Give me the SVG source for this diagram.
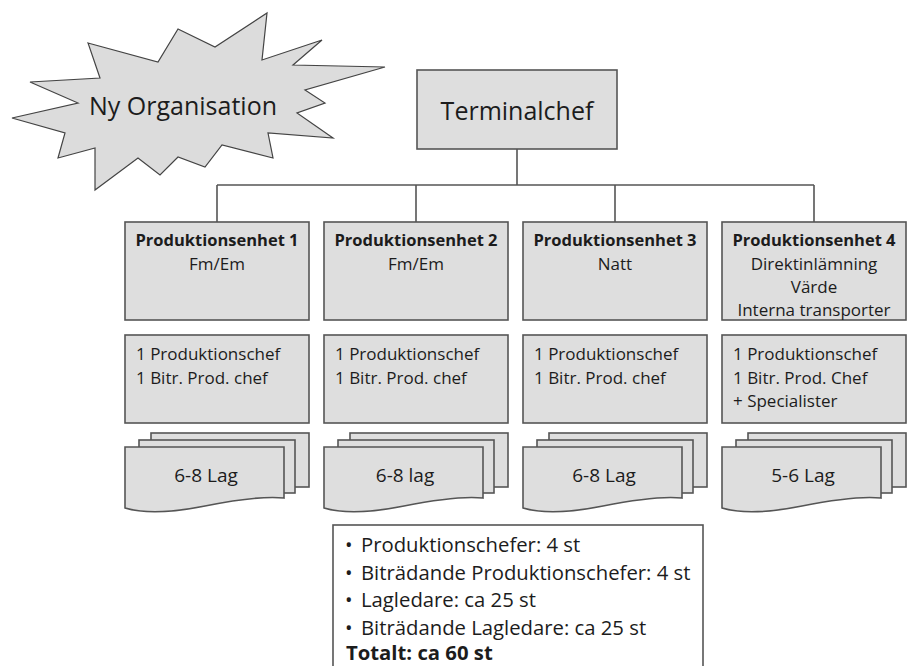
<svg xmlns="http://www.w3.org/2000/svg" xmlns:xlink="http://www.w3.org/1999/xlink" width="913" height="666" viewBox="0 0 913 666">
<style>
.box{fill:#dedede;stroke:#555;stroke-width:1.6}
.star{fill:#dcdcdc;stroke:#444;stroke-width:1.2;stroke-linejoin:miter}
.conn{fill:none;stroke:#555;stroke-width:1.6}
text{font-family:"Open Sans","Noto Sans","Liberation Sans",sans-serif;fill:#1c1c1c}
.t1{font-size:16.5px;font-weight:bold;text-anchor:middle}
.t2{font-size:17px;text-anchor:middle}
.t3{font-size:17px}
.t4{font-size:19px;text-anchor:middle}
.t5{font-size:20.3px}
.bul{font-size:20px}
</style>
<defs>
<g id="doc">
<rect class="box" x="26" y="433" width="158" height="54"/>
<rect class="box" x="14" y="440" width="156" height="53"/>
<path class="box" d="M0,447 H159 V498 C140,496 110,500 80,506 C50,512 20,514 0,508 Z"/>
</g>
</defs>
<rect width="913" height="666" fill="#fff"/>
<g id="starburst">
<path class="star" d="M88,43 L158,62 L178,29 L215,47 L267,13 L262,60 L322,40 L293,65 L385,67 L305,90 L325,103 L297,113 L333,138 L268,133 L273,158 L222,145 L205,167 L178,157 L160,175 L138,158 L95,190 L95,148 L58,158 L65,133 L12,118 L78,103 L30,82 L100,78 Z"/>
<text x="183" y="115" font-size="25" text-anchor="middle">Ny Organisation</text>
</g>
<g id="connectors">
<path class="conn" d="M517,149 V185 M217,185 H814 M217,185 V222 M416,185 V222 M615,185 V222 M814,185 V222"/>
</g>
<g id="terminalchef">
<rect class="box" x="417" y="70" width="200" height="79"/>
<text x="517" y="120" font-size="25" text-anchor="middle">Terminalchef</text>
</g>
<g id="pe1">
<rect class="box" x="125" y="222" width="184" height="98"/>
<text class="t1" x="217" y="246">Produktionsenhet 1</text>
<text class="t2" x="217" y="270">Fm/Em</text>
</g>
<g id="pe2">
<rect class="box" x="324" y="222" width="184" height="98"/>
<text class="t1" x="416" y="246">Produktionsenhet 2</text>
<text class="t2" x="416" y="270">Fm/Em</text>
</g>
<g id="pe3">
<rect class="box" x="523" y="222" width="184" height="98"/>
<text class="t1" x="615" y="246">Produktionsenhet 3</text>
<text class="t2" x="615" y="270">Natt</text>
</g>
<g id="pe4">
<rect class="box" x="722" y="222" width="184" height="98"/>
<text class="t1" x="814" y="246">Produktionsenhet 4</text>
<text class="t2" x="814" y="270">Direktinlämning</text>
<text class="t2" x="814" y="293">Värde</text>
<text class="t2" x="814" y="316">Interna transporter</text>
</g>
<g id="chef1">
<rect class="box" x="125" y="335" width="184" height="88"/>
<text class="t3" x="136" y="360">1 Produktionschef</text>
<text class="t3" x="136" y="384">1 Bitr. Prod. chef</text>
</g>
<g id="chef2">
<rect class="box" x="324" y="335" width="184" height="88"/>
<text class="t3" x="335" y="360">1 Produktionschef</text>
<text class="t3" x="335" y="384">1 Bitr. Prod. chef</text>
</g>
<g id="chef3">
<rect class="box" x="523" y="335" width="184" height="88"/>
<text class="t3" x="534" y="360">1 Produktionschef</text>
<text class="t3" x="534" y="384">1 Bitr. Prod. chef</text>
</g>
<g id="chef4">
<rect class="box" x="722" y="335" width="184" height="88"/>
<text class="t3" x="733" y="360">1 Produktionschef</text>
<text class="t3" x="733" y="384">1 Bitr. Prod. Chef</text>
<text class="t3" x="733" y="407">+ Specialister</text>
</g>
<g id="lag1">
<use xlink:href="#doc" x="125"/>
<text class="t4" x="206" y="482">6-8 Lag</text>
</g>
<g id="lag2">
<use xlink:href="#doc" x="324"/>
<text class="t4" x="405" y="482">6-8 lag</text>
</g>
<g id="lag3">
<use xlink:href="#doc" x="523"/>
<text class="t4" x="604" y="482">6-8 Lag</text>
</g>
<g id="lag4">
<use xlink:href="#doc" x="722"/>
<text class="t4" x="803" y="482">5-6 Lag</text>
</g>
<g id="summary">
<rect x="333" y="525" width="370" height="160" fill="#fff" stroke="#555" stroke-width="1.6"/>
<text class="bul" x="345" y="552">•</text>
<text class="t5" x="361" y="552">Produktionschefer: 4 st</text>
<text class="bul" x="345" y="580">•</text>
<text class="t5" x="361" y="580">Biträdande Produktionschefer: 4 st</text>
<text class="bul" x="345" y="607">•</text>
<text class="t5" x="361" y="607">Lagledare: ca 25 st</text>
<text class="bul" x="345" y="635">•</text>
<text class="t5" x="361" y="635">Biträdande Lagledare: ca 25 st</text>
<text class="t5" x="346" y="660" font-weight="bold">Totalt: ca 60 st</text>
</g>
</svg>
